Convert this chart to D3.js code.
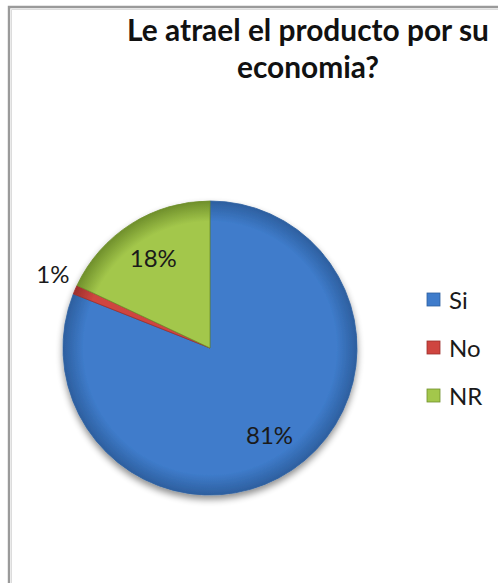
<!DOCTYPE html>
<html>
<head>
<meta charset="utf-8">
<script src="https://cdn.jsdelivr.net/npm/d3@7"></script>
<style>
  html, body { margin: 0; padding: 0; background: #fff; }
  svg { display: block; }
</style>
</head>
<body>
<svg id="chart" width="498" height="583"></svg>
<script>
// Survey answers and their shares (percent)
const categories = ["Si", "No", "NR"];
const values = [81, 1, 18];
const pctLabels = ["81%", "1%", "18%"];
const titleLines = ["Le atrael el producto por su", "economia?"];
const colors = ["#3f7ccb", "#cf4540", "#a3c74b"];
const darkColors = ["#2d5f9f", "#9c2f2c", "#6f8f2b"];

const W = 498, H = 583;
const svg = d3.select("#chart");
const FONT = "Lato, 'Open Sans', sans-serif";

// Chart frame (only left and top edges are inside the view)
svg.append("path")
  .attr("d", `M9,${H + 5} V7 H${W + 5}`)
  .attr("fill", "none").attr("stroke", "#9a9a9a").attr("stroke-width", 2.4);
svg.append("path")
  .attr("d", `M11.5,${H + 5} V9.5 H${W + 5}`)
  .attr("fill", "none").attr("stroke", "#dcdcdc").attr("stroke-width", 1);

// Title, sized so the first line spans the header width
const title = svg.append("text")
  .attr("text-anchor", "middle")
  .attr("font-family", FONT).attr("font-weight", "bold")
  .attr("font-size", 25).attr("fill", "#111");
const tsp = title.selectAll("tspan").data(titleLines).join("tspan")
  .attr("x", 308).attr("y", (d, i) => 41 + i * 37)
  .text(d => d);
const w0 = tsp.node().getComputedTextLength();
if (w0 > 0) title.attr("font-size", 25 * 362 / w0);

const defs = svg.append("defs");
// Soft drop shadow under the pie
const f = defs.append("filter").attr("id", "shadow")
  .attr("x", "-20%").attr("y", "-20%").attr("width", "140%").attr("height", "150%");
f.append("feGaussianBlur").attr("in", "SourceAlpha").attr("stdDeviation", 3.5).attr("result", "b");
f.append("feOffset").attr("in", "b").attr("dy", 4).attr("result", "o");
f.append("feComponentTransfer").attr("in", "o").attr("result", "s")
  .append("feFuncA").attr("type", "linear").attr("slope", 0.45);
const fm = f.append("feMerge");
fm.append("feMergeNode").attr("in", "s");
fm.append("feMergeNode").attr("in", "SourceGraphic");

// Bevel-like shading per slice
colors.forEach((c, i) => {
  const g = defs.append("radialGradient").attr("id", "grad" + i)
    .attr("gradientUnits", "userSpaceOnUse")
    .attr("cx", 0).attr("cy", 0).attr("r", 147);
  g.append("stop").attr("offset", "0%").attr("stop-color", c);
  g.append("stop").attr("offset", "86%").attr("stop-color", c);
  g.append("stop").attr("offset", "100%").attr("stop-color", darkColors[i]);
});

const cx = 210, cy = 348, R = 147;
const pie = d3.pie().sort(null).value(d => d);
const arcs = pie(values);
const arc = d3.arc().innerRadius(0).outerRadius(R);

const gPie = svg.append("g").attr("transform", `translate(${cx},${cy})`);
gPie.append("g").attr("filter", "url(#shadow)")
  .selectAll("path").data(arcs).join("path")
  .attr("d", arc)
  .attr("fill", (d, i) => `url(#grad${i})`)
  .attr("stroke", (d, i) => darkColors[i])
  .attr("stroke-width", 0.8)
  .attr("stroke-linejoin", "round");

// Slice labels: inside for the big slices, outside for the tiny one
const inner = d3.arc().innerRadius(R * 0.72).outerRadius(R * 0.72);
const outer = d3.arc().innerRadius(R * 1.12).outerRadius(R * 1.12);
gPie.selectAll("text.lbl").data(arcs).join("text")
  .attr("class", "lbl")
  .attr("transform", (d, i) => {
    if (i === 1) {
      const p = outer.centroid(d);
      return `translate(${p[0] - 6},${p[1] - 8})`;
    }
    const p = inner.centroid(d);
    return `translate(${p[0]},${p[1]})`;
  })
  .attr("text-anchor", "middle").attr("dy", "0.35em")
  .attr("font-family", FONT).attr("font-size", 24).attr("fill", "#1a1a1a")
  .text((d, i) => pctLabels[i]);

// Legend
const legend = svg.append("g").attr("transform", "translate(427,293)");
const item = legend.selectAll("g").data(categories).join("g")
  .attr("transform", (d, i) => `translate(0,${i * 48})`);
item.append("rect")
  .attr("width", 13).attr("height", 13)
  .attr("fill", (d, i) => colors[i])
  .attr("stroke", (d, i) => darkColors[i]).attr("stroke-width", 0.8);
item.append("text")
  .attr("x", 22).attr("y", 8).attr("dy", "0.35em")
  .attr("font-family", FONT).attr("font-size", 24).attr("fill", "#1a1a1a")
  .text(d => d);
</script>
</body>
</html>
